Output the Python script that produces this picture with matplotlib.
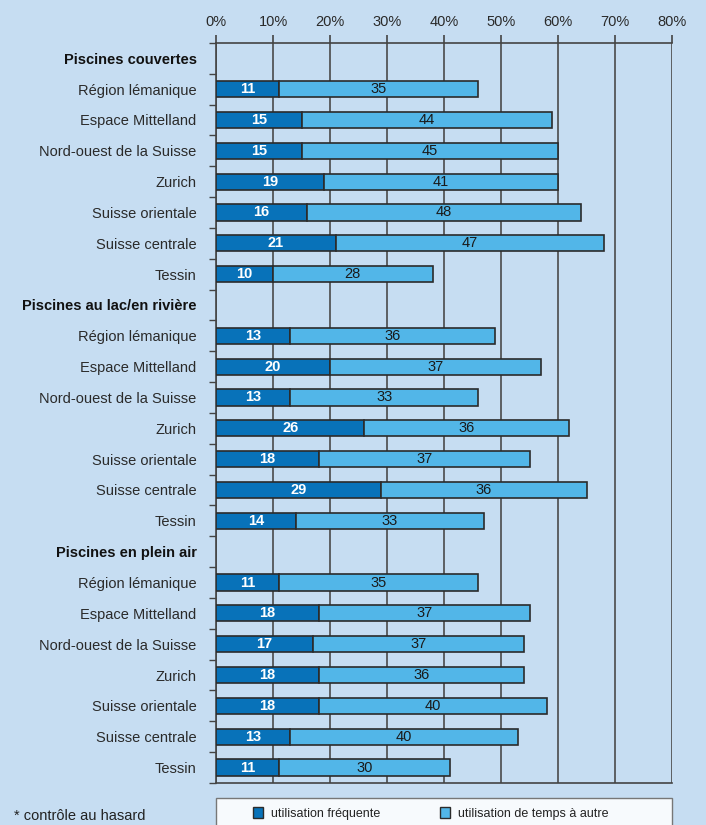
import matplotlib.pyplot as plt
from matplotlib.patches import Rectangle, Patch

plt.rcParams['font.family'] = ['Liberation Sans', 'DejaVu Sans']

# données
groups = ['Piscines couvertes', 'Piscines au lac/en rivière', 'Piscines en plein air']
regions = ['Région lémanique', 'Espace Mittelland', 'Nord-ouest de la Suisse', 'Zurich',
           'Suisse orientale', 'Suisse centrale', 'Tessin']
frequent = [
    [11, 15, 15, 19, 16, 21, 10],
    [13, 20, 13, 26, 18, 29, 14],
    [11, 18, 17, 18, 18, 13, 11],
]
parfois = [
    [35, 44, 45, 41, 48, 47, 28],
    [36, 37, 33, 36, 37, 36, 33],
    [35, 37, 37, 36, 40, 40, 30],
]
xticks = [0, 10, 20, 30, 40, 50, 60, 70, 80]
legend_labels = ['utilisation fréquente', 'utilisation de temps à autre']

bg = '#c6ddf2'
dark = '#0872b9'
light = '#52b6e8'
edge = '#2b2b2b'

fig = plt.figure(figsize=(7.06, 8.25), dpi=100, facecolor=bg)
ax = fig.add_axes([0.306, 0.051, 0.646, 0.897], facecolor=bg)

labels = []
bold = []
pos = 0
for g, name in enumerate(groups):
    labels.append(name)
    bold.append(True)
    pos += 1
    for r, reg in enumerate(regions):
        f = frequent[g][r]
        p = parfois[g][r]
        ax.barh(pos, f, height=0.52, color=dark, edgecolor=edge, lw=1.2, zorder=3)
        ax.barh(pos, p, left=f, height=0.52, color=light, edgecolor=edge, lw=1.2, zorder=3)
        ax.text(f / 2, pos, str(f), ha='center', va='center', color='white',
                fontsize=10.5, fontweight='bold', zorder=4)
        ax.text(f + p / 2, pos, str(p), ha='center', va='center', color='#1a1a1a',
                fontsize=10.5, zorder=4)
        labels.append(reg)
        bold.append(False)
        pos += 1

n = len(labels)
ax.set_ylim(n - 0.5, -0.5)
ax.set_xlim(0, 80)

ax.set_yticks(range(n))
ax.set_yticklabels(labels, fontsize=10.5, color='#2a2a2a')
for t, b in zip(ax.get_yticklabels(), bold):
    if b:
        t.set_fontweight('bold')
        t.set_color('#111111')
ax.set_yticks([k + 0.5 for k in range(-1, n)], minor=True)
ax.tick_params(axis='y', which='major', length=0, pad=14)
ax.tick_params(axis='y', which='minor', length=5, width=1, color='#444444', direction='out')

ax.xaxis.tick_top()
ax.set_xticks(xticks)
ax.set_xticklabels([f'{v}%' for v in xticks], fontsize=10.5, color='#2a2a2a')
ax.tick_params(axis='x', length=6, width=1.2, color='#444444', pad=4)
ax.grid(axis='x', color='#4a4a4a', lw=1.2, zorder=1)

for s in ['top', 'bottom', 'left']:
    ax.spines[s].set_color('#444444')
    ax.spines[s].set_linewidth(1.2)
ax.spines['right'].set_visible(False)

# légende
fig.patches.append(Rectangle((0.306, -0.02), 0.646, 0.053, transform=fig.transFigure,
                             facecolor='#f7fafd', edgecolor='#777777', lw=1))
handles = [Patch(facecolor=dark, edgecolor=edge), Patch(facecolor=light, edgecolor=edge)]
fig.legend(handles, legend_labels, loc='center left', bbox_to_anchor=(0.343, 0.014),
           ncol=2, frameon=False, fontsize=9, handlelength=0.8, handleheight=1.0,
           handletextpad=0.6, columnspacing=4.8, labelcolor='#222222')

fig.text(0.02, 0.003, '* contrôle au hasard', fontsize=10.5, color='#222222', va='bottom')

plt.savefig('out.png', dpi=100, facecolor=bg)
